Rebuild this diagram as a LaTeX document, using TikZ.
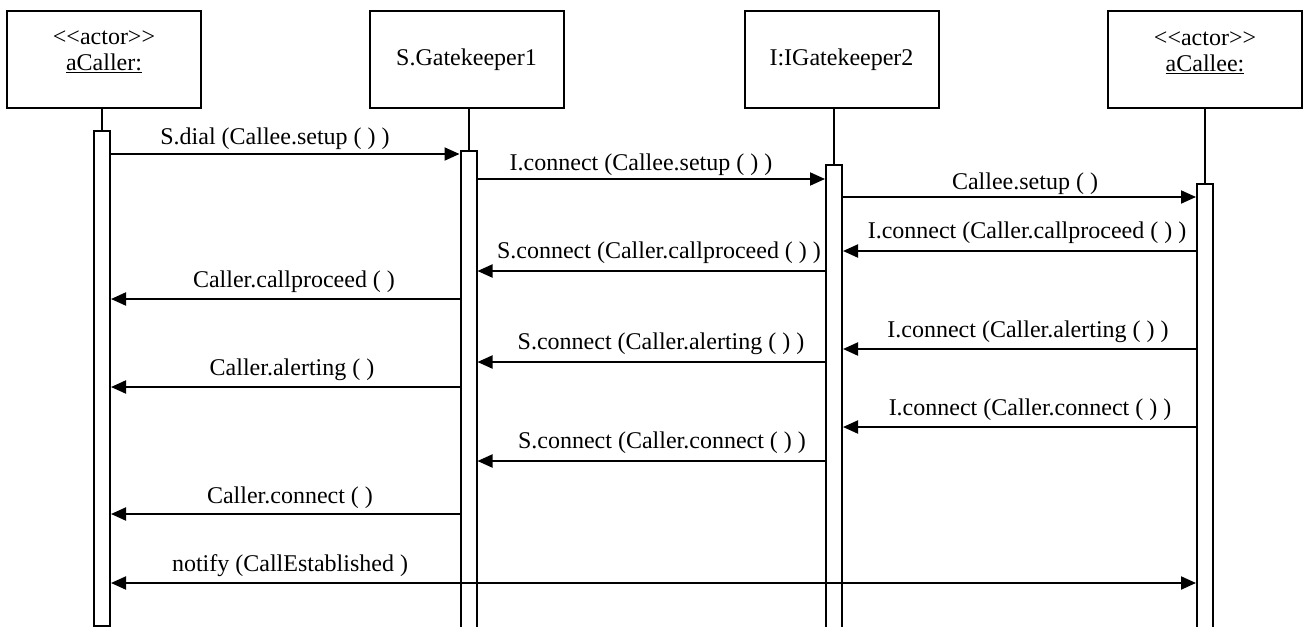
\documentclass[tikz,border=0pt]{standalone}
\usepackage{fontspec}
\setmainfont{Liberation Serif}
\usetikzlibrary{arrows.meta}

\begin{document}
\begin{tikzpicture}[x=1pt,y=-1pt,line width=2pt,font=\fontsize{24}{26}\selectfont,
  head/.style={draw,minimum width=194,minimum height=97,inner sep=0},
  bar/.style={draw,fill=white,minimum width=16,inner sep=0,anchor=north},
  msg/.style={-{Triangle[length=15pt,width=13pt]}},
  twoway/.style={{Triangle[length=15pt,width=13pt]}-{Triangle[length=15pt,width=13pt]}},
  lbl/.style={anchor=base,inner sep=0}]
\useasboundingbox (0,0) rectangle (1305,626);
{
% object heads
\node[head] (callerbox) at (104,59.5) {};
\node[align=center,inner sep=0] (callername) at (104,52) {\textless\kern0pt\textless actor\textgreater\kern0pt\textgreater\\\underline{aCaller:}};
\node[head] (gkonebox) at (466.5,59.5) {};
\node[lbl] (gkonename) at (466.5,65) {S.Gatekeeper1};
\node[head] (gktwobox) at (841.5,59.5) {};
\node[lbl] (gktwoname) at (841.5,66) {I:IGatekeeper2};
\node[head] (calleebox) at (1205,59.5) {};
\node[align=center,inner sep=0] (calleename) at (1205,53) {\textless\kern0pt\textless actor\textgreater\kern0pt\textgreater\\\underline{aCallee:}};
% activation bars
\node[bar,minimum height=495] (callerbar) at (102,130) {};
\node[bar,minimum height=490] (gkonebar) at (468.5,150) {};
\node[bar,minimum height=480] (gktwobar) at (834,164) {};
\node[bar,minimum height=460] (calleebar) at (1205,183) {};
\foreach \o in {caller,gkone,gktwo,callee}{
\draw (\o bar.north) -- (\o bar.north |- \o box.south);
}
% messages
\draw[msg] (callerbar.east |- 0,154) -- (gkonebar.west |- 0,154);
\node[lbl] (dial) at (275,144) {S.dial (Callee.setup ( ) )};
\draw[msg] (gkonebar.east |- 0,179) -- (gktwobar.west |- 0,179);
\node[lbl] (iconnsetup) at (641,170) {I.connect (Callee.setup ( ) )};
\draw[msg] (gktwobar.east |- 0,197) -- (calleebar.west |- 0,197);
\node[lbl] (setup) at (1025,189) {Callee.setup ( )};
\draw[msg] (calleebar.west |- 0,251) -- (gktwobar.east |- 0,251);
\node[lbl] (iconnproceed) at (1027,238) {I.connect (Caller.callproceed ( ) )};
\draw[msg] (gktwobar.west |- 0,271) -- (gkonebar.east |- 0,271);
\node[lbl] (sconnproceed) at (659,258) {S.connect (Caller.callproceed ( ) )};
\draw[msg] (gkonebar.west |- 0,299) -- (callerbar.east |- 0,299);
\node[lbl] (proceed) at (294,287) {Caller.callproceed ( )};
\draw[msg] (calleebar.west |- 0,349) -- (gktwobar.east |- 0,349);
\node[lbl] (iconnalert) at (1028,337) {I.connect (Caller.alerting ( ) )};
\draw[msg] (gktwobar.west |- 0,362) -- (gkonebar.east |- 0,362);
\node[lbl] (sconnalert) at (661,349) {S.connect (Caller.alerting ( ) )};
\draw[msg] (gkonebar.west |- 0,387) -- (callerbar.east |- 0,387);
\node[lbl] (alert) at (292,375) {Caller.alerting ( )};
\draw[msg] (calleebar.west |- 0,427) -- (gktwobar.east |- 0,427);
\node[lbl] (iconnconn) at (1030,415) {I.connect (Caller.connect ( ) )};
\draw[msg] (gktwobar.west |- 0,461) -- (gkonebar.east |- 0,461);
\node[lbl] (sconnconn) at (662,448) {S.connect (Caller.connect ( ) )};
\draw[msg] (gkonebar.west |- 0,514) -- (callerbar.east |- 0,514);
\node[lbl] (conn) at (290,503) {Caller.connect ( )};
\draw[twoway] (callerbar.east |- 0,583) -- (calleebar.west |- 0,583);
\node[lbl] (notify) at (290,571) {notify (CallEstablished )};
}
\end{tikzpicture}
\end{document}
